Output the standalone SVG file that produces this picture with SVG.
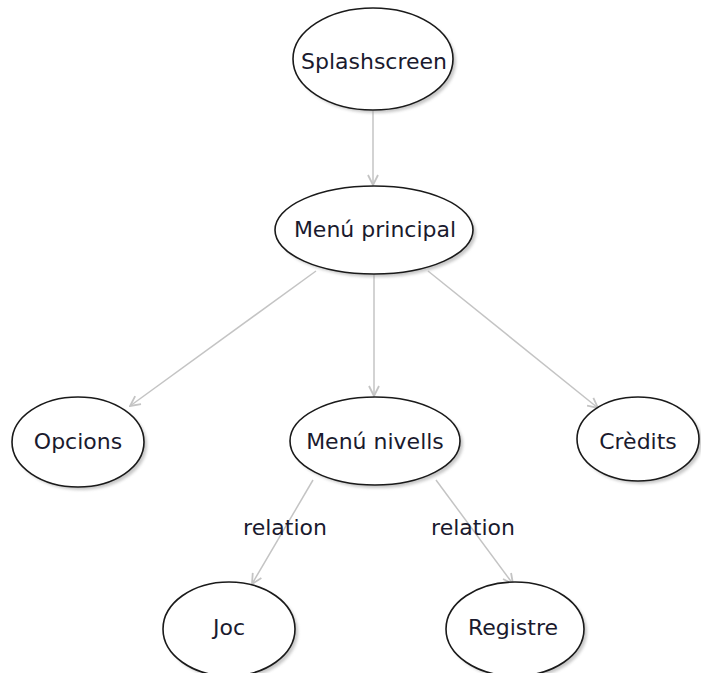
<svg xmlns="http://www.w3.org/2000/svg" width="701" height="673" viewBox="0 0 701 673">
<defs>
<style>
.node ellipse.shadow{fill:#9a9a9a;opacity:0.55;filter:url(#blur)}
.node ellipse.body{fill:#ffffff;stroke:#1a1a1a;stroke-width:1.6}
.node text,.lbl{font-family:"DejaVu Sans",Verdana,sans-serif;font-size:22px;fill:#1a1a2e;text-anchor:middle;dominant-baseline:central}
.edge{stroke:#c4c4c4;stroke-width:1.5;fill:none;marker-end:url(#arr)}
</style>
<filter id="blur" x="-20%" y="-20%" width="140%" height="140%"><feGaussianBlur stdDeviation="1.5"/></filter>
<marker id="arr" viewBox="0 0 12 12" refX="11" refY="6" markerWidth="12" markerHeight="12" markerUnits="userSpaceOnUse" orient="auto">
<path d="M1,1 L11,6 L1,11" fill="none" stroke="#c4c4c4" stroke-width="1.8"/>
</marker>
</defs>
<g id="connectors">
<line class="edge" x1="373" y1="111" x2="373" y2="185"/>
<line class="edge" x1="316" y1="271" x2="130" y2="406"/>
<line class="edge" x1="374" y1="274" x2="374" y2="396"/>
<line class="edge" x1="428" y1="271" x2="598" y2="408"/>
<line class="edge" x1="313" y1="480" x2="252" y2="584"/>
<line class="edge" x1="436" y1="480" x2="513" y2="584"/>
<text class="lbl" x="285" y="527">relation</text>
<text class="lbl" x="473" y="527">relation</text>
</g>
<g id="splashscreen" class="node">
<ellipse class="shadow" cx="376" cy="62" rx="80" ry="51"/>
<ellipse class="body" cx="373" cy="59" rx="80" ry="51"/>
<text x="374" y="61">Splashscreen</text>
</g>
<g id="menu-principal" class="node">
<ellipse class="shadow" cx="377" cy="233" rx="99" ry="44"/>
<ellipse class="body" cx="374" cy="230" rx="99" ry="44"/>
<text x="375" y="229">Menú principal</text>
</g>
<g id="opcions" class="node">
<ellipse class="shadow" cx="81" cy="445" rx="66" ry="45"/>
<ellipse class="body" cx="78" cy="442" rx="66" ry="45"/>
<text x="78" y="441">Opcions</text>
</g>
<g id="menu-nivells" class="node">
<ellipse class="shadow" cx="378" cy="444" rx="85" ry="44"/>
<ellipse class="body" cx="375" cy="441" rx="85" ry="44"/>
<text x="375" y="441">Menú nivells</text>
</g>
<g id="credits" class="node">
<ellipse class="shadow" cx="641" cy="442" rx="61" ry="42"/>
<ellipse class="body" cx="638" cy="439" rx="61" ry="42"/>
<text x="638" y="441">Crèdits</text>
</g>
<g id="joc" class="node">
<ellipse class="shadow" cx="232" cy="632" rx="66" ry="47"/>
<ellipse class="body" cx="229" cy="629" rx="66" ry="47"/>
<text x="229" y="627">Joc</text>
</g>
<g id="registre" class="node">
<ellipse class="shadow" cx="518" cy="632" rx="69" ry="47"/>
<ellipse class="body" cx="515" cy="629" rx="69" ry="47"/>
<text x="513" y="627">Registre</text>
</g>
</svg>
